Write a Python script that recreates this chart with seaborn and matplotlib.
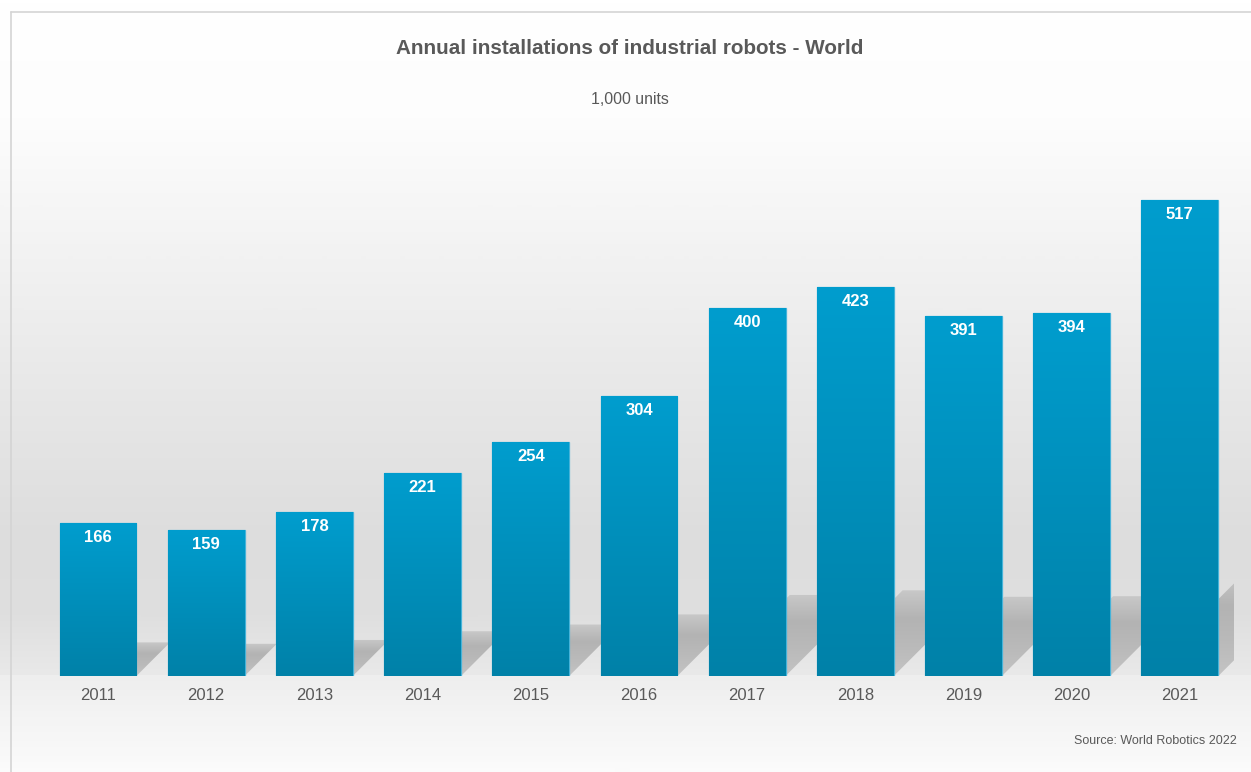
import numpy as np
import pandas as pd
import matplotlib
matplotlib.use("Agg")
import matplotlib.pyplot as plt
import seaborn as sns
from matplotlib.colors import LinearSegmentedColormap
from matplotlib.patches import Polygon

# ---- data ----
years = ["2011", "2012", "2013", "2014", "2015", "2016", "2017", "2018", "2019", "2020", "2021"]
installations = [166, 159, 178, 221, 254, 304, 400, 423, 391, 394, 517]
title = "Annual installations of industrial robots - World"
subtitle = "1,000 units"
source = "Source: World Robotics 2022"

sns.set_theme(style="white")
plt.rcParams["font.family"] = ["Liberation Sans", "DejaVu Sans"]

W, H = 1251, 772
fig = plt.figure(figsize=(W / 100, H / 100), dpi=100)

# ---- background gradient ----
bg = fig.add_axes([0, 0, 1, 1], zorder=-10)
bg_cmap = LinearSegmentedColormap.from_list(
    "bg",
    [(0.0, "#ffffff"), (0.15, "#fdfdfd"), (0.45, "#ebebeb"), (0.70, "#dddddd"),
     (0.80, "#dfdfdf"), (0.875, "#e9e9e9"), (0.876, "#eeeeee"), (1.0, "#fbfbfb")])
grad = np.linspace(0, 1, 772).reshape(-1, 1)
bg.imshow(grad, aspect="auto", extent=[0, 1, 0, 1], cmap=bg_cmap, origin="upper",
          interpolation="bilinear")
# frame: top and left edges only
bg.plot([10.5 / W, 10.5 / W], [0, 1 - 11.5 / H], color="#d4d4d4", lw=1.2,
        transform=bg.transAxes)
bg.plot([10.5 / W, 1], [1 - 11.5 / H, 1 - 11.5 / H], color="#d4d4d4", lw=1.2,
        transform=bg.transAxes)
bg.set_xlim(0, 1)
bg.set_ylim(0, 1)
bg.axis("off")

# ---- main axes ----
left, right, base, top = 43.9, 1234, 676, 123.6
ax = fig.add_axes([left / W, (H - base) / H, (right - left) / W, (base - top) / H])
ax.patch.set_alpha(0)

df = pd.DataFrame({"year": years, "units": installations})
sns.barplot(data=df, x="year", y="units", color="#0096c6", width=0.71, ax=ax,
            saturation=1, edgecolor="#45b3d9", linewidth=0.9, zorder=3)
ax.set_xlim(-0.5, len(years) - 0.5)
ax.set_ylim(0, 600)

# pixel scale to build 45-degree shadows
px_x = (right - left) / len(years)
px_y = (base - top) / 600.0

bar_cmap = LinearSegmentedColormap.from_list("bar", ["#0081a8", "#009dce"])
shadow_cmap = LinearSegmentedColormap.from_list("sh", ["#c4c4c4", "#bababa", "#b3b3b3", "#c8c8c8"])
for patch, v in zip(list(ax.patches), installations):
    x0 = patch.get_x()
    x1 = x0 + patch.get_width()
    hs = 0.22 * v
    dx = hs * px_y / px_x
    shadow = Polygon([(x0, 0), (x1, 0), (x1 + dx, hs), (x0 + dx, hs)], closed=True,
                     facecolor="none", edgecolor="none", zorder=1)
    ax.add_patch(shadow)
    sim = ax.imshow(np.linspace(0, 1, 256).reshape(-1, 1), cmap=shadow_cmap, origin="lower",
                    extent=[x0, x1 + dx, 0, hs], aspect="auto", zorder=1,
                    interpolation="bilinear")
    sim.set_clip_path(shadow)
    im = ax.imshow(np.linspace(0, 1, 256).reshape(-1, 1), cmap=bar_cmap, origin="lower",
                   extent=[x0, x1, 0, v], aspect="auto", zorder=3.5, interpolation="bilinear")
    im.set_clip_path(patch)
    ax.annotate(str(v), xy=(x0 + patch.get_width() / 2, v), xytext=(0, -10.5),
                textcoords="offset points", ha="center", va="center", color="white",
                fontsize=12, fontweight="bold", zorder=5)
ax.set_xlim(-0.5, len(years) - 0.5)
ax.set_ylim(0, 600)

for s in ax.spines.values():
    s.set_visible(False)
ax.set_xlabel("")
ax.set_ylabel("")
ax.set_yticks([])
ax.tick_params(axis="x", length=0, pad=9, labelsize=12, labelcolor="#595959")

fig.text(630 / W, 1 - 49 / H, title, ha="center", va="center", fontsize=14.9,
         fontweight="bold", color="#595959")
fig.text(630 / W, 1 - 100 / H, subtitle, ha="center", va="center", fontsize=11.4,
         color="#595959")
fig.text(1237 / W, 1 - 741 / H, source, ha="right", va="center", fontsize=9,
         color="#595959")

fig.savefig("out.png", dpi=100)
